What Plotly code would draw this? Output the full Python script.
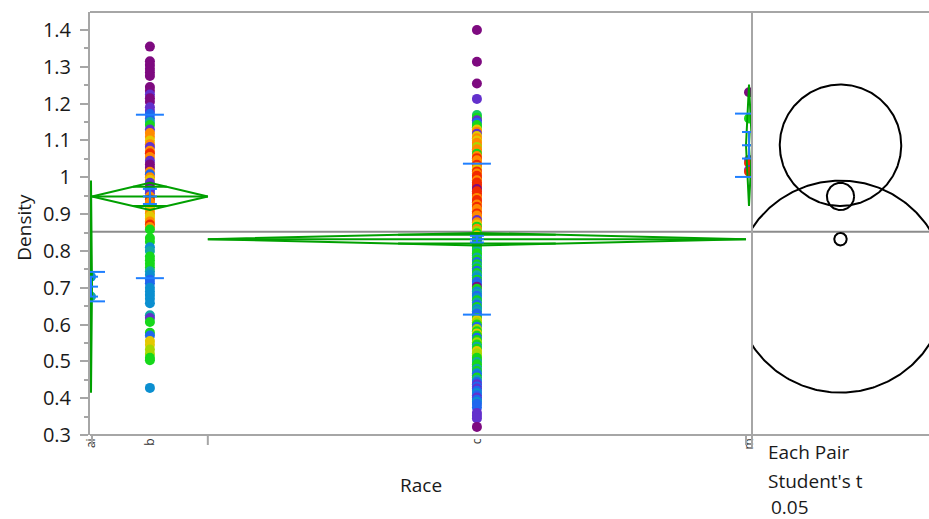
import numpy as np
import plotly.graph_objects as go

# ---------------- data ----------------
groups = ["ai", "b", "c", "m"]
counts = [2, 116, 539, 6]
means = [0.703, 0.948, 0.832, 1.087]
std_devs = [0.040, 0.222, 0.205, 0.086]
std_errs = [0.027, 0.0205, 0.009, 0.036]
ci_half = [0.288, 0.037, 0.017, 0.165]
grand_mean = 0.852
y_tick_vals = [0.3, 0.4, 0.5, 0.6, 0.7, 0.8, 0.9, 1.0, 1.1, 1.2, 1.3, 1.4]
y_tick_text = ["0.3", "0.4", "0.5", "0.6", "0.7", "0.8", "0.9", "1", "1.1", "1.2", "1.3", "1.4"]
caption_lines = ["Each Pair", "Student's t", "0.05"]

ai_vals = [0.730, 0.676]
ai_cols = ["C", "T"]

b_vals = [1.355, 1.315, 1.305, 1.295, 1.285, 1.275, 1.245, 1.235, 1.225, 1.215,
          1.205, 1.19, 1.18, 1.172, 1.16, 1.15, 1.142, 1.13, 1.12, 1.11,
          1.10, 1.09, 1.082, 1.072, 1.065, 1.055, 1.045, 1.035, 1.025, 1.015,
          1.008, 1.0, 0.993, 0.985, 0.975, 0.965, 0.957, 0.948, 0.94, 0.932,
          0.925, 0.917, 0.91, 0.902, 0.895, 0.888, 0.88, 0.872, 0.865, 0.858,
          0.835, 0.825, 0.81, 0.80, 0.785, 0.775, 0.765, 0.755, 0.745, 0.735,
          0.722, 0.712, 0.70, 0.69, 0.68, 0.67, 0.658, 0.625, 0.618, 0.607,
          0.578, 0.570, 0.555, 0.545, 0.532, 0.52, 0.51, 0.503, 0.428]
b_cols = ("P P P P P P P P V P "
          "P V V B B T G V O O "
          "Y O V O R O V P P O "
          "B O Y V P B V O R O "
          "O L Y O Y Y O R O G "
          "G G C T G G G G T C "
          "B B C C C C C T V G "
          "G B Y Y L L G G C").split()

c_vals = [1.40, 1.314, 1.255, 1.213,
          1.169, 1.162, 1.155, 1.148, 1.142, 1.136, 1.13, 1.124, 1.118, 1.112,
          1.106, 1.10, 1.094, 1.088, 1.082, 1.076, 1.07, 1.064, 1.058, 1.052,
          1.046, 1.04, 1.034, 1.028, 1.022, 1.016, 1.01, 1.004, 0.998, 0.992,
          0.986, 0.98, 0.974, 0.968, 0.962, 0.956, 0.95, 0.944, 0.938, 0.932,
          0.926, 0.92, 0.914, 0.908, 0.902, 0.896, 0.89, 0.884, 0.878, 0.872,
          0.866, 0.86, 0.854, 0.848, 0.842, 0.836, 0.83, 0.824, 0.818, 0.812,
          0.806, 0.80, 0.794, 0.788, 0.782, 0.776, 0.77, 0.764, 0.758, 0.752,
          0.746, 0.74, 0.734, 0.728, 0.722, 0.716, 0.71, 0.703, 0.697, 0.69,
          0.684, 0.678, 0.672, 0.666, 0.66, 0.654, 0.648, 0.642, 0.636, 0.63,
          0.624, 0.618, 0.612, 0.606, 0.60, 0.594, 0.588, 0.582, 0.576, 0.57,
          0.564, 0.558, 0.552, 0.546, 0.54, 0.534, 0.528, 0.522, 0.516, 0.51,
          0.504, 0.498, 0.492, 0.486, 0.48, 0.474, 0.468, 0.462, 0.456, 0.45,
          0.444, 0.438, 0.432, 0.426, 0.42, 0.414, 0.408, 0.402, 0.396, 0.39,
          0.384, 0.375, 0.36, 0.352, 0.345, 0.322]
c_cols = ("P P P V "
          "E G V B G G Y O V Y "
          "O Y O O L O O G O R "
          "O O R O Y R O R R O "
          "R R R P R R R O R R "
          "O R O O R O O V O Y "
          "G O L G Y V G B G G "
          "G T G G T G B G T G "
          "B G T C G B B P G C "
          "T B C G T B G C T B "
          "B G Y L G B L G Y G "
          "B G L G T G Y L L G "
          "G T G G T G C B G T "
          "B V B V B C B V B C "
          "B B V V V P").split()

m_vals = [1.231, 1.16, 1.047, 1.039, 1.02, 1.015]
m_cols = ["P", "G", "V", "R", "V", "R"]

palette = {
    "P": "#7e0a80", "V": "#6330cc", "B": "#1f66ee", "C": "#0b8fd0",
    "T": "#12a8a6", "G": "#16d81a", "E": "#16c866", "L": "#a6d800",
    "Y": "#e4c800", "O": "#ff8a00", "R": "#f22a00",
}

# ---------------- layout geometry ----------------
W, H = 929, 519
ML, MR, MT, MB = 90, 0, 12, 84
plot_w = W - ML - MR
plot_h = H - MT - MB
y_range = [0.3, 1.449]
main_px = 662
split = main_px / plot_w
px_per_y = plot_h / (y_range[1] - y_range[0])
half_circ = (plot_w - main_px) / 2 / px_per_y

GREEN = "#00a000"
BLUE = "#1f7fff"
GRAY = "#a6a6a6"
FONT = "Open Sans"
TXT = "#1a1a1a"

N = sum(counts)
bounds = np.concatenate([[0], np.cumsum(counts)]).astype(float)
centers = (bounds[:-1] + bounds[1:]) / 2
x_per_px = N / main_px
SD_HALF = 14 * x_per_px
SE_HALF = 7 * x_per_px

fig = go.Figure()

# points
for i, (vals, cols) in enumerate([(ai_vals, ai_cols), (b_vals, b_cols),
                                  (c_vals, c_cols), (m_vals, m_cols)]):
    fig.add_trace(go.Scatter(
        x=[centers[i]] * len(vals), y=vals, mode="markers",
        marker=dict(size=10, color=[palette[c] for c in cols], line=dict(width=0)),
        showlegend=False, hoverinfo="y"))

# means diamonds
dx, dy = [], []
k = 1 - 1 / np.sqrt(2)
for i in range(len(groups)):
    lx, rx, cx = bounds[i], bounds[i + 1], centers[i]
    hw = (rx - lx) / 2
    m, ci = means[i], ci_half[i]
    dx += [lx, cx, rx, cx, lx, None, lx, rx, None]
    dy += [m, m + ci, m, m - ci, m, None, m, m, None]
    ov = ci / np.sqrt(2)
    for s in (1, -1):
        dx += [cx - k * hw, cx + k * hw, None]
        dy += [m + s * ov, m + s * ov, None]
fig.add_trace(go.Scatter(x=dx, y=dy, mode="lines",
                         line=dict(color=GREEN, width=2),
                         showlegend=False, hoverinfo="skip"))

# std dev lines and mean error bars
bx, by = [], []
for i in range(len(groups)):
    cx, m = centers[i], means[i]
    for v in (m + std_devs[i], m - std_devs[i]):
        bx += [cx - SD_HALF, cx + SD_HALF, None]
        by += [v, v, None]
    for v in (m + std_errs[i], m, m - std_errs[i]):
        bx += [cx - SE_HALF, cx + SE_HALF, None]
        by += [v, v, None]
    bx += [cx, cx, None]
    by += [m - std_errs[i], m + std_errs[i], None]
fig.add_trace(go.Scatter(x=bx, y=by, mode="lines",
                         line=dict(color=BLUE, width=2),
                         showlegend=False, hoverinfo="skip"))

# comparison circles
t = np.linspace(0, 2 * np.pi, 361)
for i in range(len(groups)):
    r = ci_half[i]
    fig.add_trace(go.Scatter(
        x=r * np.cos(t), y=means[i] + r * np.sin(t), mode="lines",
        line=dict(color="black", width=2), xaxis="x2", yaxis="y",
        showlegend=False, hoverinfo="skip"))

shapes = [
    dict(type="line", xref="paper", yref="y", x0=0, x1=1, y0=grand_mean, y1=grand_mean,
         line=dict(color="#8c8c8c", width=2), layer="below"),
    dict(type="line", xref="paper", yref="paper", x0=0, x1=1, y0=1, y1=1,
         line=dict(color=GRAY, width=2)),
    dict(type="line", xref="paper", yref="paper", x0=0, x1=1, y0=0, y1=0,
         line=dict(color=GRAY, width=2)),
    dict(type="line", xref="paper", yref="paper", x0=split, x1=split,
         y0=-12 / plot_h, y1=1, line=dict(color=GRAY, width=2)),
]
for bnd in bounds[1:-1]:
    shapes.append(dict(type="line", xref="x", yref="paper", x0=bnd, x1=bnd,
                       y0=0, y1=-10 / plot_h, line=dict(color=GRAY, width=2)))

annotations = [
    dict(text="Race", xref="paper", yref="paper",
         x=(main_px / 2) / plot_w, y=-50 / plot_h, showarrow=False,
         xanchor="center", yanchor="middle", font=dict(size=19, color=TXT, family=FONT)),
    dict(text="Density", xref="paper", yref="paper", x=-66 / plot_w, y=0.49,
         textangle=-90, showarrow=False, xanchor="center", yanchor="middle",
         font=dict(size=19, color=TXT, family=FONT)),
]
cap_y = [-17, -46, -72]
cap_x = [676, 676, 679]
for line, yy, xx in zip(caption_lines, cap_y, cap_x):
    annotations.append(dict(text=line, xref="paper", yref="paper",
                            x=xx / plot_w, y=yy / plot_h, showarrow=False,
                            xanchor="left", yanchor="middle",
                            font=dict(size=19, color=TXT, family=FONT)))

fig.update_layout(
    width=W, height=H, autosize=False,
    margin=dict(l=ML, r=MR, t=MT, b=MB, pad=0, autoexpand=False),
    paper_bgcolor="white", plot_bgcolor="white",
    font=dict(family=FONT, color=TXT),
    showlegend=False,
    xaxis=dict(domain=[0, split], range=[0, N], showgrid=False, zeroline=False,
               showline=False, tickmode="array", tickvals=list(centers),
               ticktext=groups, tickangle=-90, ticks="", ticklen=0, automargin=False,
               tickfont=dict(size=12, color="#333333", family=FONT), anchor="y"),
    xaxis2=dict(domain=[split, 1], range=[-half_circ, half_circ], visible=False,
                anchor="y", showgrid=False, zeroline=False, automargin=False),
    yaxis=dict(range=y_range, showgrid=False, zeroline=False, showline=True,
               linecolor=GRAY, linewidth=2, ticks="outside", ticklen=8,
               tickwidth=2, tickcolor=GRAY, tickmode="array", automargin=False,
               tickvals=y_tick_vals, ticktext=y_tick_text, ticklabelstandoff=5,
               tickfont=dict(size=20, color=TXT, family=FONT),
               minor=dict(ticks="outside", ticklen=4, tickwidth=2, tickcolor=GRAY,
                          tickmode="linear", tick0=0.35, dtick=0.1, showgrid=False),
               anchor="x"),
    shapes=shapes,
    annotations=annotations,
)

fig.write_html("out.html",
               config={"displayModeBar": False, "responsive": False},
               post_script="document.body.style.margin='0';document.body.style.overflow='hidden';")
